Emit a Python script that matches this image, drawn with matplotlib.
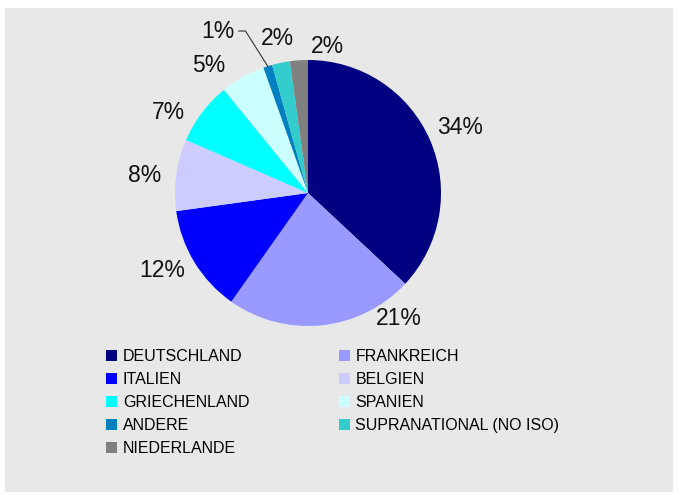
"""
    Pie chart of country shares with a two-column legend below
"""
import matplotlib
matplotlib.use('Agg')
import matplotlib.pyplot as plt
from matplotlib.patches import Patch, Rectangle
import numpy as np

plt.rcParams['font.family'] = ['Liberation Sans', 'DejaVu Sans']

# data
countries = ['DEUTSCHLAND', 'FRANKREICH', 'ITALIEN', 'BELGIEN', 'GRIECHENLAND',
             'SPANIEN', 'ANDERE', 'SUPRANATIONAL (NO ISO)', 'NIEDERLANDE']
shares = [34, 21, 12, 8, 7, 5, 1, 2, 2]
colors = ['#000080', '#9999FF', '#0000FF', '#CCCCFF', '#00FFFF',
          '#CCFFFF', '#0080C0', '#33CCCC', '#808080']

# where the percent labels sit (in pie radius units)
label_xy = [(1.143, 0.489), (0.684, -0.940), (-1.094, -0.586), (-1.226, 0.128),
            (-1.049, 0.609), (-0.744, 0.962), (-0.680, 1.218), (-0.229, 1.158),
            (0.143, 1.098)]

W, H = 681, 495
fig = plt.figure(figsize=(W / 100, H / 100), dpi=100, facecolor='white')

# grey panel
fig.patches.append(Rectangle((5 / W, 1 - 492 / H), 668 / W, 484 / H,
                             transform=fig.transFigure, facecolor='#e8e8e8',
                             edgecolor='none', zorder=-5))

cx, cy, r = 308, 193, 133
ax = fig.add_axes([(cx - r) / W, (H - cy - r) / H, 2 * r / W, 2 * r / H])
wedges, _ = ax.pie(shares, colors=colors, startangle=90, counterclock=False,
                   wedgeprops=dict(linewidth=0))
ax.set_xlim(-1, 1)
ax.set_ylim(-1, 1)
ax.set_aspect('auto')

for (x, y), v in zip(label_xy, shares):
    ax.text(x, y, f'{v}%', ha='center', va='center', fontsize=16.5,
            color='#111111', clip_on=False)

# leader line for the tiny ANDERE slice
w = wedges[6]
mid = np.deg2rad((w.theta1 + w.theta2) / 2)
lx, ly = label_xy[6]
ax.plot([lx + 0.16, lx + 0.21, np.cos(mid)], [ly, ly, np.sin(mid)],
        color='#333333', lw=0.8, clip_on=False)

# legend, row-wise order
order = [0, 2, 4, 6, 8, 1, 3, 5, 7]
handles = [Patch(facecolor=colors[i], edgecolor='none', label=countries[i]) for i in order]
fig.legend(handles=handles, ncol=2, loc='upper left',
           bbox_to_anchor=(106 / W, 1 - 349 / H), frameon=False,
           fontsize=11.5, handlelength=0.7, handleheight=0.7,
           handletextpad=0.35, columnspacing=5.6, labelspacing=0.5,
           borderpad=0, borderaxespad=0)

fig.savefig('out.png', dpi=100, facecolor='white')
